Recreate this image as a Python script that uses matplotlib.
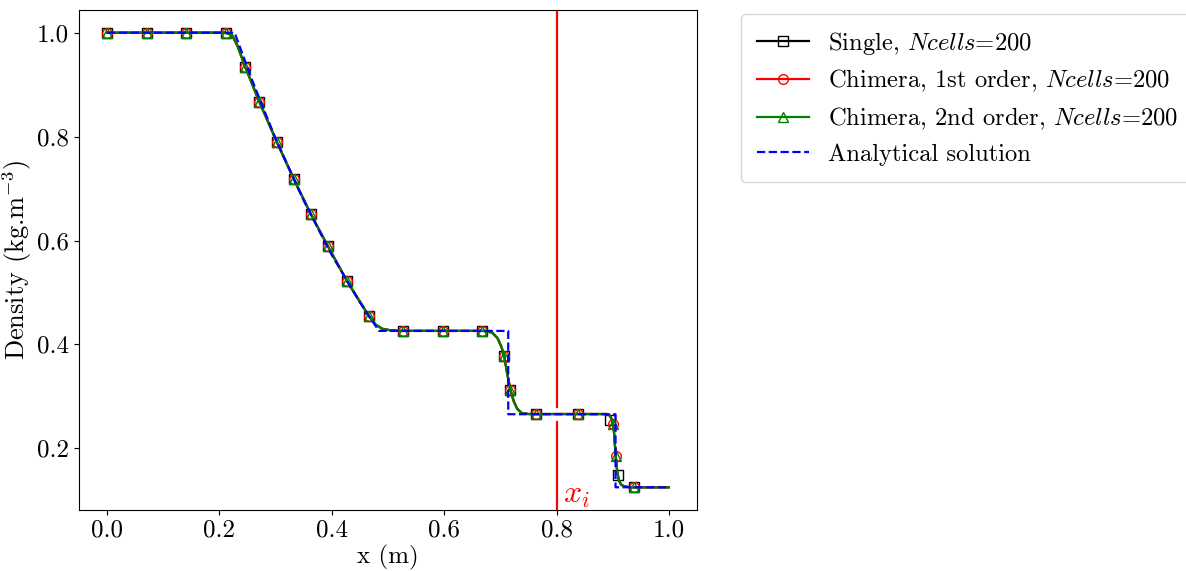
import matplotlib
matplotlib.use("Agg")
import matplotlib.pyplot as plt
from matplotlib.lines import Line2D

plt.rcParams['font.family'] = 'serif'
plt.rcParams['font.serif'] = ['cmr10', 'DejaVu Serif']
plt.rcParams['mathtext.fontset'] = 'cm'
plt.rcParams['axes.unicode_minus'] = False
plt.rcParams['axes.formatter.use_mathtext'] = True

# Numerical solution (shared shape of the three simulations)
num_x = [0.0, 0.21, 0.222, 0.232, 0.246, 0.271, 0.302, 0.332, 0.3625, 0.393, 0.427,
         0.466, 0.478, 0.49, 0.505, 0.52, 0.67, 0.685, 0.695, 0.702, 0.707, 0.712,
         0.718, 0.724, 0.73, 0.738, 0.75, 0.89, 0.895, 0.899, 0.902, 0.905, 0.908,
         0.911, 0.915, 0.92, 0.93, 1.0]
num_rho = [1.0, 1.0, 0.996, 0.975, 0.934, 0.867, 0.790, 0.719, 0.651, 0.589, 0.522,
           0.4545, 0.438, 0.430, 0.427, 0.426, 0.426, 0.423, 0.412, 0.395, 0.377, 0.345,
           0.312, 0.29, 0.276, 0.268, 0.266, 0.266, 0.263, 0.254, 0.235, 0.19, 0.155,
           0.138, 0.13, 0.127, 0.125, 0.125]

# Marker locations
single_mx = [0.0, 0.0714, 0.141, 0.2125, 0.246, 0.271, 0.302, 0.332, 0.3625, 0.393,
             0.427, 0.466, 0.527, 0.598, 0.668, 0.707, 0.718, 0.764, 0.8375, 0.896,
             0.909, 0.9375]
single_my = [1.0, 1.0, 1.0, 1.0, 0.934, 0.867, 0.790, 0.719, 0.651, 0.589,
             0.522, 0.4545, 0.4255, 0.4255, 0.4255, 0.377, 0.312, 0.266, 0.266, 0.254,
             0.149, 0.125]
chim_mx = [0.0, 0.0714, 0.141, 0.2125, 0.246, 0.271, 0.302, 0.332, 0.3625, 0.393,
           0.427, 0.466, 0.527, 0.598, 0.668, 0.707, 0.718, 0.764, 0.8375, 0.901,
           0.9054, 0.9375]
chim_my = [1.0, 1.0, 1.0, 1.0, 0.934, 0.867, 0.790, 0.719, 0.651, 0.589,
           0.522, 0.4545, 0.4255, 0.4255, 0.4255, 0.377, 0.312, 0.266, 0.266, 0.246,
           0.185, 0.125]

# Analytical solution
ana_x = [0.0, 0.227, 0.26, 0.30, 0.35, 0.393, 0.40, 0.45, 0.4838, 0.714, 0.714,
         0.905, 0.905, 1.0]
ana_rho = [1.0, 1.0, 0.9035, 0.796, 0.677, 0.586, 0.572, 0.481, 0.426, 0.426, 0.2656,
           0.2656, 0.125, 0.125]

x_interface = 0.8

labels = ['Single, $Ncells$=200',
          'Chimera, 1st order, $Ncells$=200',
          'Chimera, 2nd order, $Ncells$=200',
          'Analytical solution']

fig = plt.figure(figsize=(11.86, 5.71), dpi=100)
ax = fig.add_axes([79/1186, 61/571, 618/1186, 500/571])

lw = 1.6
ms = 7
fs = 18
ax.plot(num_x, num_rho, color='black', lw=lw, zorder=2)
ax.plot(single_mx, single_my, ls='none', marker='s', ms=ms, mfc='none', mec='black', mew=1.0, zorder=2)
ax.plot(num_x, num_rho, color='red', lw=lw, zorder=3)
ax.plot(chim_mx, chim_my, ls='none', marker='o', ms=ms, mfc='none', mec='red', mew=1.0, zorder=3)
ax.plot(num_x, num_rho, color='green', lw=lw, zorder=4)
ax.plot(chim_mx, chim_my, ls='none', marker='^', ms=ms, mfc='none', mec='green', mew=1.0, zorder=4)
ax.plot(ana_x, ana_rho, color='blue', ls='--', lw=lw, zorder=5)

ax.margins(x=0.05, y=0.05)
ax.axvline(x_interface, ymin=0.0, ymax=0.177, color='red', lw=lw, zorder=1)
ax.axvline(x_interface, ymin=0.207, ymax=1.0, color='red', lw=lw, zorder=1)
ax.text(x_interface + 0.012, 0.107, '$x_i$', color='red', fontsize=23, va='center', ha='left')

ax.set_xticks([0.0, 0.2, 0.4, 0.6, 0.8, 1.0])
ax.set_yticks([0.2, 0.4, 0.6, 0.8, 1.0])
ax.set_xticklabels(['0.0', '0.2', '0.4', '0.6', '0.8', '1.0'])
ax.set_yticklabels(['0.2', '0.4', '0.6', '0.8', '1.0'])
ax.tick_params(labelsize=fs)
ax.set_xlabel('x (m)', fontsize=fs, labelpad=2)
ax.set_ylabel('Density (kg.m$^{-3}$)', fontsize=fs + 1, labelpad=2)

handles = [
    Line2D([], [], color='black', lw=lw, marker='s', ms=ms, mfc='none', mec='black'),
    Line2D([], [], color='red', lw=lw, marker='o', ms=ms, mfc='none', mec='red'),
    Line2D([], [], color='green', lw=lw, marker='^', ms=ms, mfc='none', mec='green'),
    Line2D([], [], color='blue', lw=lw, ls='--'),
]
ax.legend(handles, labels, loc='upper left', bbox_to_anchor=(741/1186, 1 - 14/571),
          bbox_transform=fig.transFigure, borderaxespad=0, fontsize=17.7,
          labelspacing=0.45, borderpad=0.65, handlelength=2.1, handletextpad=0.8)

fig.savefig('out.png', dpi=100)
